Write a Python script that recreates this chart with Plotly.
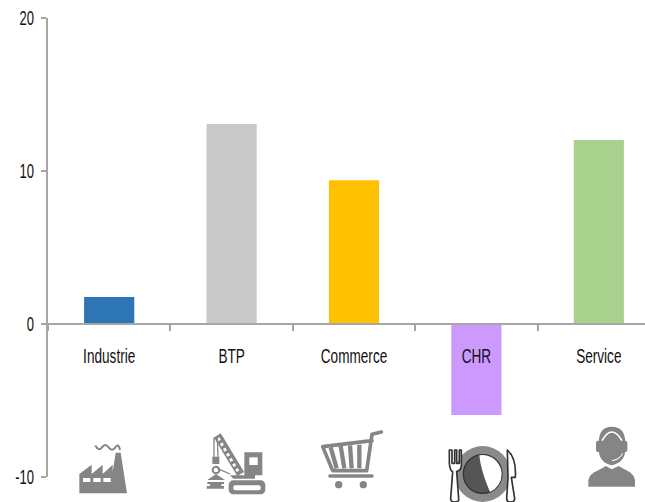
import base64
import plotly.graph_objects as go

categories = ["Industrie", "BTP", "Commerce", "CHR", "Service"]
values = [1.76, 13.07, 9.4, -5.95, 12.03]
bar_colors = ["#2E75B6", "#C9C9C9", "#FFC000", "#CC99FF", "#A9D18E"]
y_ticks = [-10, 0, 10, 20]
y_tick_labels = ["-10", "0", "10", "20"]

W, H = 645, 502
L, T, B = 48, 18, 477
G = "#858585"

ICONS = [
    (0, (230, 125, 160, 165), f'''
      <path fill="{G}" d="M238 280V222L275 194V222L308 194V222L338 194V215L347 158H362L381 280Z"/>
      <rect x="249" y="234" width="22" height="12" fill="#fff"/>
      <rect x="280" y="234" width="22" height="12" fill="#fff"/>
      <rect x="310" y="234" width="22" height="12" fill="#fff"/>
      <path fill="none" stroke="{G}" stroke-width="6" d="M286 136Q296 156 306 142T326 142T346 142T360 150"/>'''),
    (0, (615, 95, 185, 195), f'''
      <rect x="686" y="241" width="110" height="42" rx="14" fill="{G}"/>
      <rect x="700" y="256" width="82" height="15" rx="6" fill="#fff"/>
      <path fill="{G}" d="M733 157H787V226L765 226V236H700L690 226H733Z"/>
      <rect x="748" y="172" width="25" height="23" fill="#fff"/>
      <path stroke="{G}" stroke-width="24" d="M652 106L722 222"/>
      <path stroke="#fff" stroke-width="9" stroke-dasharray="9 9" d="M654 114L714 214"/>
      <path stroke="{G}" stroke-width="4" fill="none" d="M642 112V175M652 112L654 175M652 205L690 222"/>
      <path fill="{G}" d="M637 170H658V192H637Z"/>
      <circle cx="648" cy="210" r="10" fill="none" stroke="{G}" stroke-width="6"/>
      <path fill="{G}" d="M622 240L648 222L675 240ZM622 246H672V252H664V258H672V266H620V258H630V252H622Z"/>'''),
    (320, (0, 88, 195, 185), f'''
      <path fill="none" stroke="{G}" stroke-width="11" stroke-linejoin="round" stroke-linecap="round"
        d="M184 96L156 103L140 212H38L8 140L156 122M30 228H156"/>
      <path stroke="{G}" stroke-width="13" d="M32 142L50 205M62 138L73 205M90 136L95 205M118 134L118 205"/>
      <circle cx="56" cy="254" r="11" fill="{G}"/>
      <circle cx="130" cy="254" r="11" fill="{G}"/>'''),
    (320, (380, 135, 215, 171), f'''
      <circle cx="488" cy="222" r="84" fill="#8a8a8a"/>
      <circle cx="488" cy="222" r="58" fill="#555" stroke="#333" stroke-width="4"/>
      <path fill="#fff" d="M478 166A58 58 0 0 1 545 222A58 58 0 0 1 510 276C495 240 482 205 478 166Z"/>
      <path fill="#fff" stroke="#333" stroke-width="5" stroke-linejoin="round"
        d="M388 150V190Q390 212 398 215L392 296Q392 306 405 306Q418 306 416 296L410 215Q426 210 424 190V150H418V190H410V150H404V190H396V150Z"/>
      <path fill="#fff" stroke="#333" stroke-width="5" stroke-linejoin="round"
        d="M562 150Q590 175 586 232H574L584 296Q584 306 572 306Q560 306 560 296L564 232Z"/>'''),
    (320, (800, 75, 150, 190), f'''
      <path fill="{G}" d="M805 260V240Q808 222 832 212L858 198L875 208L896 198L922 212Q942 222 945 240V260Z"/>
      <path fill="{G}" d="M836 150V125Q838 80 875 80Q914 80 916 125V150Q914 188 875 196Q838 188 836 150Z"/>
      <path fill="none" stroke="#fff" stroke-width="5" d="M846 122Q875 70 906 122"/>
      <rect x="828" y="122" width="14" height="34" rx="6" fill="{G}"/>
      <rect x="908" y="122" width="14" height="34" rx="6" fill="{G}"/>
      <path fill="none" stroke="#fff" stroke-width="3" d="M908 160Q900 178 876 182"/>'''),
]

images = []
for off, (x, y, w, h), body in ICONS:
    svg = f'<svg xmlns="http://www.w3.org/2000/svg" width="{w}" height="{h}" viewBox="{x} {y} {w} {h}">{body}</svg>'
    uri = "data:image/svg+xml;base64," + base64.b64encode(svg.encode()).decode()
    px, py = off + x / 3, 400 + y / 3
    images.append(dict(source=uri, xref="paper", yref="paper", xanchor="left", yanchor="top",
                       x=(px - L) / (W - L), y=(B - py) / (B - T),
                       sizex=w / 3 / (W - L), sizey=h / 3 / (B - T), sizing="stretch", layer="above"))

FONT = "Liberation Sans, sans-serif"
fig = go.Figure(go.Bar(x=categories, y=values, marker=dict(color=bar_colors, line_width=0), width=0.41))
fig.update_layout(
    width=W, height=H, margin=dict(l=L, r=0, t=T, b=H - B, autoexpand=False),
    paper_bgcolor="white", plot_bgcolor="white", showlegend=False, images=images,
    font=dict(family=FONT, color="#111111"),
    xaxis=dict(type="category", range=[-0.5, -0.5 + (W - L) / 122.4], anchor="free", position=1 / 3,
               showgrid=False, showline=True, linecolor="#A6A6A6", linewidth=2,
               ticks="outside", tickson="boundaries", ticklen=6, tickcolor="#A6A6A6", tickwidth=1.5,
               tickfont=dict(size=20), ticklabelstandoff=14),
    yaxis=dict(range=[-10, 20], tickvals=y_ticks, ticktext=y_tick_labels, showgrid=False, zeroline=False,
               showline=True, linecolor="#A6A6A6", linewidth=1.5, ticks="outside", ticklen=5,
               tickcolor="#A6A6A6", tickwidth=1.5, tickfont=dict(size=21), ticklabelstandoff=3),
)
squeeze = """
document.body.style.margin = '0';
function squeeze(sel, k) {
  document.querySelectorAll(sel).forEach(function (t) {
    t.setAttribute('lengthAdjust', 'spacingAndGlyphs');
    t.setAttribute('textLength', t.getComputedTextLength() * k);
  });
}
squeeze('.xtick text', 0.68);
squeeze('.ytick text', 0.62);
"""
fig.write_html("out.html", post_script=squeeze, config={"displayModeBar": False})
